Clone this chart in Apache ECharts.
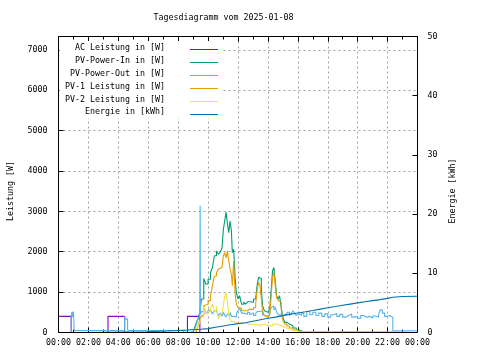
<!DOCTYPE html>
<html><head><meta charset="utf-8">
<script src="https://cdn.jsdelivr.net/npm/echarts@6/dist/echarts.min.js"></script>
<style>html,body{margin:0;padding:0;background:#fff}#c{width:480px;height:360px}</style>
</head><body><div id="c"></div>
<script>
// ---- data (hours, value) ----
const titleText = 'Tagesdiagramm vom 2025-01-08';
const seriesNames = ['AC Leistung in [W]','PV-Power-In in [W]','PV-Power-Out in [W]','PV-1 Leistung in [W]','PV-2 Leistung in [W]','Energie in [kWh]'];
const seriesColors = ['#9400d3','#009e73','#56b4e9','#e69f00','#f0e442','#0072b2'];

const acPower = [[0,400],[0.85,0],[3.31,400],[4.42,0],[8.62,400],[9.45,0],[24,0]];

const pvPowerIn = [[0,0],[9.0,0],[9.11,130],[9.22,250],[9.33,340],[9.44,500],[9.56,830],[9.71,1340],[9.84,1200],
[10.0,1320],[10.16,1480],[10.29,1610],[10.42,1900],[10.56,2020],[10.69,1940],[10.82,1990],[10.93,2100],
[11.02,2550],[11.11,2760],[11.2,2980],[11.29,2710],[11.38,2470],[11.47,2760],[11.56,2510],[11.62,1980],
[11.71,2060],[11.8,1400],[11.89,990],[12.0,830],[12.11,910],[12.24,700],[12.38,750],[12.51,700],[12.64,760],
[12.78,790],[12.91,750],[13.04,830],[13.18,870],[13.29,1200],[13.38,1370],[13.47,1340],[13.56,1080],[13.64,670],
[13.76,540],[13.89,500],[14.02,460],[14.13,620],[14.22,1080],[14.31,1530],[14.4,1610],[14.49,1280],[14.58,910],
[14.69,830],[14.78,910],[14.89,620],[15.0,380],[15.13,250],[15.27,210],[15.44,170],[15.67,110],[15.89,60],
[16.11,25],[16.33,0],[24,0]];

const pvPowerOut = [[0,0],[0.85,400],[0.9,510],[0.95,380],[1.0,520],[1.05,50],[3.31,50],[4.42,400],[4.47,330],[4.62,50],
[8.35,0],[8.5,40],[8.6,0],[8.8,30],[9.0,20],[9.11,90],[9.22,200],[9.33,340],[9.44,420],[9.47,3140],[9.49,450],
[9.56,520],[9.71,660],[9.84,500],[10.0,560],[10.16,600],[10.29,460],[10.42,540],[10.56,500],[10.69,420],[10.82,480],
[10.93,400],[11.02,500],[11.11,430],[11.2,380],[11.29,460],[11.38,420],[11.47,500],[11.56,400],[11.71,380],
[11.89,460],[12.0,540],[12.11,600],[12.24,480],[12.38,520],[12.51,450],[12.64,500],[12.78,440],[12.91,480],
[13.04,420],[13.18,470],[13.29,520],[13.47,540],[13.64,440],[13.76,400],[13.89,380],[14.02,440],[14.13,500],
[14.22,620],[14.31,660],[14.4,560],[14.49,620],[14.58,500],[14.69,440],[14.78,420],[14.89,480],[15.0,400],
[15.13,450],[15.27,500],[15.44,420],[15.56,470],[15.67,540],[15.78,480],[15.89,420],[16.0,460],[16.11,420],
[16.25,480],[16.4,400],[16.6,520],[16.8,440],[17.0,500],[17.2,420],[17.4,480],[17.6,400],[17.8,460],[18.0,380],
[18.2,440],[18.4,470],[18.6,400],[18.8,450],[19.0,380],[19.2,420],[19.4,460],[19.6,380],[19.8,400],[20.0,350],
[20.2,420],[20.4,380],[20.6,400],[20.8,360],[21.0,410],[21.2,380],[21.4,440],[21.5,560],[21.65,480],[21.8,400],
[22.0,420],[22.15,380],[22.35,45],[24,45]];

const pv1Power = [[0,0],[9.2,0],[9.33,170],[9.44,300],[9.56,420],[9.71,660],[9.84,700],[10.0,790],[10.16,910],
[10.29,1160],[10.42,1400],[10.56,1480],[10.69,1570],[10.82,1610],[10.93,1570],[11.02,1900],[11.11,1980],
[11.2,1850],[11.29,2020],[11.38,1770],[11.47,1570],[11.56,1440],[11.62,1160],[11.71,1770],[11.8,990],[11.89,700],
[12.0,620],[12.11,600],[12.24,540],[12.38,570],[12.51,540],[12.64,580],[12.78,580],[12.91,570],[13.04,620],
[13.18,700],[13.29,1080],[13.38,1240],[13.47,1160],[13.56,830],[13.64,540],[13.76,420],[13.89,380],[14.02,340],
[14.13,460],[14.22,910],[14.31,1370],[14.4,1490],[14.49,1160],[14.58,870],[14.69,790],[14.78,750],[14.89,540],
[15.0,300],[15.13,210],[15.27,160],[15.44,110],[15.67,60],[15.89,25],[16.11,0],[24,0]];

const pv2Power = [[0,0],[9.1,0],[9.22,90],[9.33,170],[9.44,250],[9.56,380],[9.71,660],[9.84,460],[10.0,520],
[10.16,600],[10.29,700],[10.42,540],[10.56,650],[10.69,340],[10.82,440],[10.93,490],[11.02,660],[11.11,900],
[11.2,990],[11.29,790],[11.38,460],[11.47,320],[11.56,270],[11.71,240],[11.89,210],[12.11,250],[12.38,210],
[12.64,200],[12.91,210],[13.18,170],[13.47,210],[13.76,170],[14.02,160],[14.31,210],[14.58,170],[14.89,130],
[15.13,90],[15.44,50],[15.89,25],[16.11,0],[24,0]];

const energyKWh = [[0,0],[0.85,0.05],[3.0,0.12],[5.9,0.25],[7.3,0.4],[8.6,0.5],[9.0,0.55],[9.5,0.65],[10,0.9],
[10.5,1.1],[11,1.3],[11.5,1.5],[12,1.65],[12.5,1.9],[13,2.15],[13.5,2.4],[14,2.6],[14.5,2.85],[15,3.1],[15.5,3.3],
[16,3.5],[16.5,3.72],[17,3.95],[17.5,4.17],[18,4.38],[18.5,4.6],[19,4.8],[19.5,5.0],[20,5.2],[20.5,5.38],
[21,5.56],[21.5,5.76],[22,5.95],[22.35,6.08],[23,6.13],[24,6.2]];

const leftAxisName = 'Leistung [W]';
const rightAxisName = 'Energie [kWh]';

// ---- chart ----
const FONT = 'DejaVu Sans Mono';
const FS = 8.3;
const G = {left: 58.5, top: 36.5, right: 62.5, bottom: 27.5};
const plotW = 480 - G.left - G.right, plotH = 360 - G.top - G.bottom;
const allData = [acPower, pvPowerIn, pvPowerOut, pv1Power, pv2Power, energyKWh];

const chart = echarts.init(document.getElementById('c'), null, {renderer: 'canvas'});
const fmtHour = v => { const h = Math.round(v) % 24; return (h < 10 ? '0' : '') + h + ':00'; };
const fmtPlain = v => String(Math.round(v));
const tickStyle = {color: '#000', width: 1};
const dashed = {color: '#a0a0a0', type: [2, 3], width: 1};
const noLine = {show: false, onZero: false};

const legendEls = [];
legendEls.push({type: 'rect', z: 50, shape: {x: 59.5, y: 41, width: 163, height: 77}, style: {fill: '#fff'}});
const textY = [48.3, 61, 73.7, 86.7, 100, 112.3];
const lineY = [49.5, 62.5, 75.5, 88.5, 101.5, 114.5];
seriesNames.forEach((n, i) => {
  legendEls.push({type: 'text', z: 51, x: 165, y: textY[i], style: {text: n, fill: '#000', fontFamily: FONT, fontSize: FS, textAlign: 'right', textVerticalAlign: 'middle'}});
  legendEls.push({type: 'line', z: 51, shape: {x1: 190, y1: lineY[i], x2: 218, y2: lineY[i]}, style: {stroke: seriesColors[i], lineWidth: 1}});
});

chart.setOption({
  animation: false,
  backgroundColor: '#fff',
  grid: {left: G.left, top: G.top, right: G.right, bottom: G.bottom, show: false},
  xAxis: [
    {type: 'value', min: 0, max: 24, interval: 2, position: 'bottom',
     axisLine: noLine,
     axisTick: {show: true, inside: true, length: 5, lineStyle: tickStyle},
     minorTick: {show: true, splitNumber: 2, length: 3, lineStyle: tickStyle},
     axisLabel: {formatter: fmtHour, color: '#000', fontFamily: FONT, fontSize: FS, margin: 6},
     splitLine: {show: true, lineStyle: dashed}},
    {type: 'value', min: 0, max: 24, interval: 2, position: 'top',
     axisLine: noLine,
     axisTick: {show: true, inside: true, length: 5, lineStyle: tickStyle},
     minorTick: {show: true, splitNumber: 2, length: 3, lineStyle: tickStyle},
     axisLabel: {show: false}, splitLine: {show: false}}
  ],
  yAxis: [
    {type: 'value', min: 0, max: 7330, interval: 1000, position: 'left',
     axisLine: noLine,
     axisTick: {show: true, inside: true, length: 5, lineStyle: tickStyle},
     axisLabel: {formatter: fmtPlain, color: '#000', fontFamily: FONT, fontSize: FS, margin: 11, showMaxLabel: false},
     splitLine: {show: true, lineStyle: dashed}},
    {type: 'value', min: 0, max: 50, interval: 10, position: 'right',
     axisLine: noLine,
     axisTick: {show: true, inside: true, length: 5, lineStyle: tickStyle},
     axisLabel: {formatter: fmtPlain, color: '#000', fontFamily: FONT, fontSize: FS, margin: 10},
     splitLine: {show: false}}
  ],
  series: allData.map((d, i) => ({
    name: seriesNames[i], type: 'line', data: d, step: 'end',
    xAxisIndex: 0, yAxisIndex: i === 5 ? 1 : 0,
    showSymbol: false, symbol: 'none',
    lineStyle: {color: seriesColors[i], width: 1.1},
    itemStyle: {color: seriesColors[i]},
    emphasis: {disabled: true}
  })),
  graphic: {elements: [
    {type: 'rect', z: 100, shape: {x: G.left, y: G.top, width: plotW, height: plotH}, style: {fill: null, stroke: '#000', lineWidth: 1}},
    {type: 'text', z: 100, x: 223.5, y: 18, style: {text: titleText, fill: '#000', fontFamily: FONT, fontSize: FS, textAlign: 'center', textVerticalAlign: 'middle'}},
    {type: 'text', z: 100, x: 10.5, y: 191, rotation: Math.PI / 2, style: {text: leftAxisName, fill: '#000', fontFamily: FONT, fontSize: FS, textAlign: 'center', textVerticalAlign: 'middle'}},
    {type: 'text', z: 100, x: 452.5, y: 191, rotation: Math.PI / 2, style: {text: rightAxisName, fill: '#000', fontFamily: FONT, fontSize: FS, textAlign: 'center', textVerticalAlign: 'middle'}}
  ].concat(legendEls)}
});
</script></body></html>
